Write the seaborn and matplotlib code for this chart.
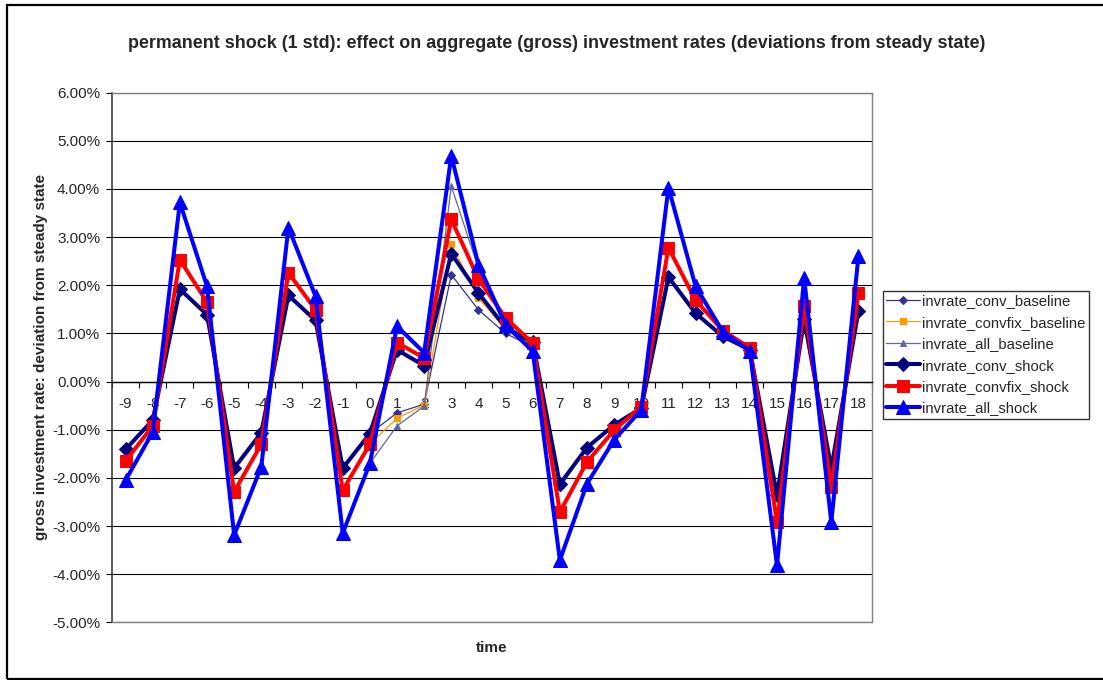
import matplotlib
matplotlib.use('Agg')
import matplotlib.pyplot as plt
import matplotlib.patches as patches
from matplotlib.ticker import PercentFormatter, MultipleLocator
import seaborn as sns
import numpy as np

# time axis (categories)
time = list(range(-9, 19))

# values in percent
conv_baseline = [-1.41, -0.80, 1.92, 1.39, -1.80, -1.06, 1.79, 1.27, -1.80, -1.08,
                 -0.65, -0.47, 2.22, 1.49, 1.00, 0.72, -2.20, -1.37, -0.90, -0.55,
                 2.17, 1.42, 0.94, 0.66, -2.36, 1.29, -1.80, 1.46]
convfix_baseline = [-1.65, -0.92, 2.53, 1.65, -2.29, -1.30, 2.26, 1.49, -2.26, -1.30,
                    -0.76, -0.49, 2.86, 1.74, 1.08, 0.75, -2.71, -1.67, -1.01, -0.52,
                    2.78, 1.69, 1.06, 0.70, -2.92, 1.58, -2.19, 1.84]
all_baseline = [-2.05, -1.05, 3.72, 1.98, -3.19, -1.77, 3.20, 1.77, -3.15, -1.70,
                -0.92, -0.51, 4.06, 2.35, 1.12, 0.62, -3.71, -2.12, -1.21, -0.59,
                4.03, 1.98, 1.04, 0.63, -3.82, 2.15, -2.92, 2.60]
conv_shock = [-1.41, -0.80, 1.92, 1.39, -1.80, -1.06, 1.79, 1.27, -1.80, -1.08,
              0.66, 0.33, 2.66, 1.84, 1.12, 0.82, -2.13, -1.37, -0.90, -0.55,
              2.17, 1.42, 0.94, 0.66, -2.36, 1.29, -1.80, 1.46]
convfix_shock = [-1.65, -0.92, 2.53, 1.65, -2.29, -1.30, 2.26, 1.49, -2.26, -1.30,
                 0.81, 0.49, 3.37, 2.13, 1.32, 0.80, -2.71, -1.67, -1.01, -0.52,
                 2.78, 1.69, 1.06, 0.70, -2.92, 1.58, -2.19, 1.84]
all_shock = [-2.05, -1.05, 3.72, 1.98, -3.19, -1.77, 3.20, 1.77, -3.15, -1.70,
             1.15, 0.60, 4.69, 2.43, 1.18, 0.63, -3.71, -2.12, -1.21, -0.59,
             4.03, 1.98, 1.04, 0.63, -3.82, 2.15, -2.92, 2.60]

series = [
    ('invrate_conv_baseline', conv_baseline, '#333399', 'D', 0.9, 4.5),
    ('invrate_convfix_baseline', convfix_baseline, '#FF9900', 's', 0.9, 5),
    ('invrate_all_baseline', all_baseline, '#666699', '^', 0.9, 5),
    ('invrate_conv_shock', conv_shock, '#000080', 'D', 2.9, 7.5),
    ('invrate_convfix_shock', convfix_shock, '#FF0000', 's', 2.9, 9),
    ('invrate_all_shock', all_shock, '#0000FF', '^', 2.9, 9.5),
]

sns.set_style('white')
plt.rcParams['font.family'] = ['Liberation Sans', 'DejaVu Sans']
plt.rcParams['axes.unicode_minus'] = False

W, H = 1103, 680
fig = plt.figure(figsize=(W / 100, H / 100), dpi=100)
ax = fig.add_axes([112 / W, 1 - 622.3 / H, (872 - 112) / W, (622.3 - 92.7) / H])

for name, vals, color, mk, lw, ms in series:
    sns.lineplot(x=time, y=vals, ax=ax, color=color, marker=mk, linewidth=lw,
                 markersize=ms, markeredgecolor=color, label=name)

ax.set_xlim(-9.5, 18.5)
ax.set_ylim(-5, 6)
ax.yaxis.set_major_locator(MultipleLocator(1))
ax.yaxis.set_major_formatter(PercentFormatter(xmax=100, decimals=2))
ax.grid(axis='y', color='black', linewidth=0.8)
ax.grid(axis='x', visible=False)

# x axis crosses at zero
ax.spines['bottom'].set_position(('data', 0))
ax.spines['bottom'].set_color('black')
ax.spines['bottom'].set_linewidth(1.0)
ax.spines['left'].set_color('#404040')
ax.spines['left'].set_linewidth(1.2)
for s in ['top', 'right']:
    ax.spines[s].set_color('#808080')
    ax.spines[s].set_linewidth(1.0)
ax.plot([0, 1], [0, 0], transform=ax.transAxes, color='#808080', lw=1.0,
        clip_on=False, zorder=3)

ax.set_xticks(time)
ax.set_xticklabels([str(t) for t in time])
ax.set_xticks(np.arange(-9.5, 19, 1), minor=True)
ax.tick_params(axis='x', which='major', length=0, pad=11, labelsize=11)
ax.tick_params(axis='x', which='minor', direction='out', length=4, width=0.8,
               color='black', bottom=True)
ax.tick_params(axis='y', which='major', direction='out', length=4.5, width=0.8,
               color='black', left=True, pad=4, labelsize=11)

ax.set_ylabel('gross investment rate: deviation from steady state',
              fontsize=11, fontweight='bold')
ax.yaxis.set_label_coords(-0.084, 0.5)
ax.set_xlabel('time', fontsize=11, fontweight='bold')
ax.xaxis.set_label_coords(0.5, -0.035)

fig.text(0.505, 1 - 43 / H,
         'permanent shock (1 std): effect on aggregate (gross) investment rates '
         '(deviations from steady state)',
         ha='center', va='center', fontsize=12.9, fontweight='bold')

leg = ax.legend(loc='upper left', bbox_to_anchor=(883 / W, 1 - 291 / H),
                bbox_transform=fig.transFigure, borderaxespad=0, fontsize=10.7,
                frameon=True, fancybox=False, edgecolor='black',
                handlelength=2.3, handletextpad=0.1, labelspacing=0.5,
                borderpad=0.22)
leg.get_frame().set_linewidth(1.0)

# outer chart border
fig.patches.append(patches.Rectangle((7 / W, 1 / H), 1.2, (679 - 5) / H,
                                     transform=fig.transFigure, fill=False,
                                     edgecolor='black', linewidth=1.6))

plt.savefig('out.png', dpi=100)
plt.close()
